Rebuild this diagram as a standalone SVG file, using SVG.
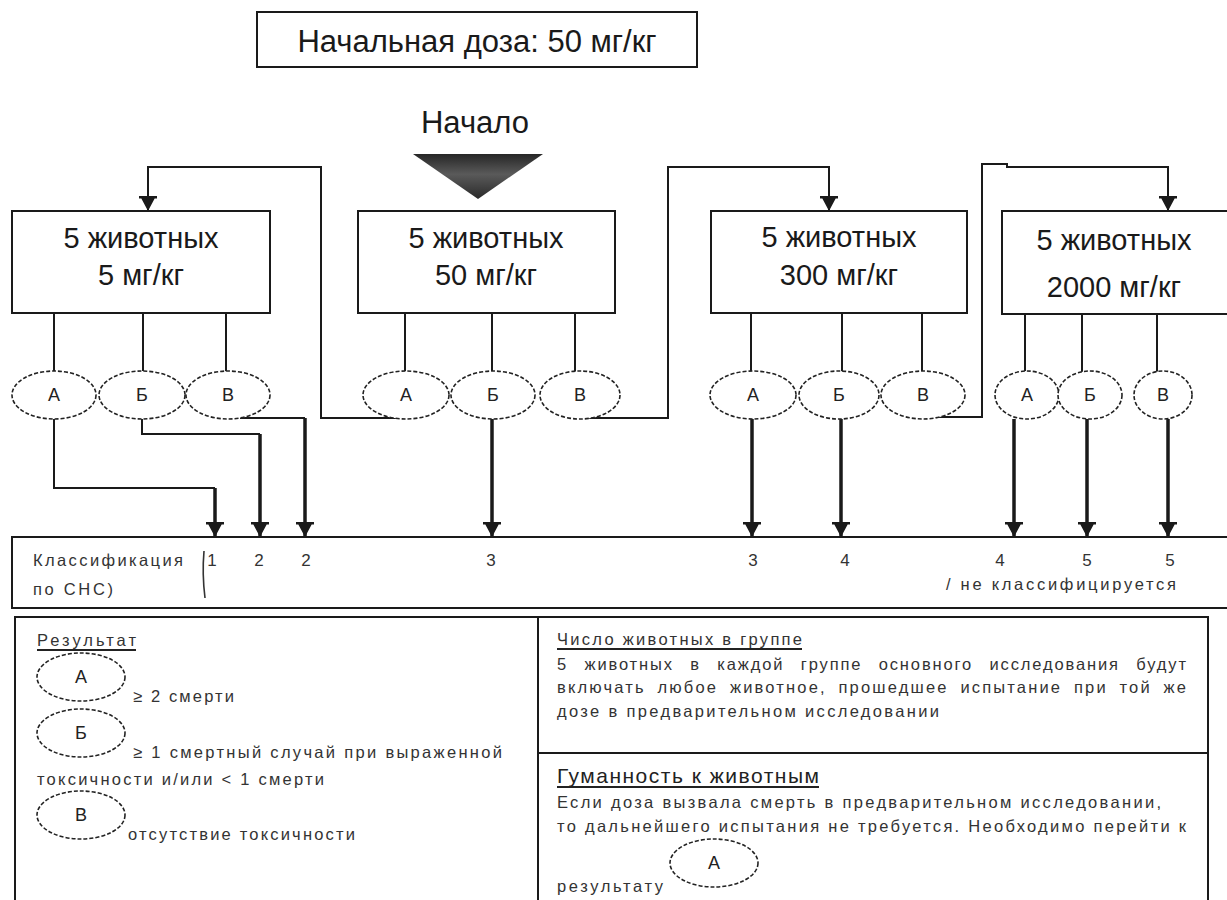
<svg xmlns="http://www.w3.org/2000/svg" width="1227" height="900" viewBox="0 0 1227 900">
<defs>
<style>
.box{fill:#fff;stroke:#1a1a1a;stroke-width:2}
.big{font-family:"Liberation Sans",Arial,sans-serif;font-size:31px;fill:#1a1a1a;text-anchor:middle}
.bt{font-family:"Liberation Sans",Arial,sans-serif;font-size:29px;fill:#1a1a1a;text-anchor:middle}
.el{fill:#fff;stroke:#222;stroke-width:1.6;stroke-dasharray:4 2}
.et{font-family:"Liberation Sans",Arial,sans-serif;font-size:18px;fill:#222;text-anchor:middle}
.ln{fill:none;stroke:#1a1a1a;stroke-width:2}
.thk{fill:none;stroke:#1a1a1a;stroke-width:3.5}
.sm{font-family:"Liberation Sans",Arial,sans-serif;font-size:16.5px;fill:#333}
.num{font-family:"Liberation Sans",Arial,sans-serif;font-size:17px;fill:#333;text-anchor:middle}
.hd{font-family:"Liberation Sans",Arial,sans-serif;font-size:21px;fill:#222}
.ul{stroke:#222;stroke-width:1.8}
</style>
<marker id="ah" viewBox="0 -9 16 18" refX="15" refY="0" markerWidth="16" markerHeight="18" markerUnits="userSpaceOnUse" orient="auto">
<path d="M0,-8 L15,0 L0,8 Z M0,-9 h2.5 v18 h-2.5 Z" fill="#1a1a1a"/>
</marker>
<linearGradient id="tri" x1="0" y1="0" x2="0" y2="1">
<stop offset="0" stop-color="#262626"/>
<stop offset="0.45" stop-color="#5a5a5a"/>
<stop offset="1" stop-color="#2a2a2a"/>
</linearGradient>
</defs>
<rect width="1227" height="900" fill="#fff"/>

<g id="title">
<rect class="box" x="257" y="12" width="440" height="55"/>
<text class="big" x="477" y="52">Начальная доза: 50 мг/кг</text>
</g>

<g id="start">
<text class="big" x="475" y="133">Начало</text>
<polygon points="413,154 543,154 478,199" fill="url(#tri)"/>
</g>

<g id="box-5">
<rect class="box" x="12" y="211" width="258" height="102"/>
<text class="bt" x="141" y="248">5 животных</text>
<text class="bt" x="141" y="285">5 мг/кг</text>
</g>
<g id="box-50">
<rect class="box" x="358" y="211" width="257" height="102"/>
<text class="bt" x="486" y="248">5 животных</text>
<text class="bt" x="486" y="285">50 мг/кг</text>
</g>
<g id="box-300">
<rect class="box" x="711" y="211" width="256" height="102"/>
<text class="bt" x="839" y="247">5 животных</text>
<text class="bt" x="839" y="285">300 мг/кг</text>
</g>
<g id="box-2000">
<rect class="box" x="1002" y="211" width="240" height="103"/>
<text class="bt" x="1114" y="250">5 животных</text>
<text class="bt" x="1114" y="297">2000 мг/кг</text>
</g>

<g id="classification">
<rect class="box" x="12" y="537" width="1240" height="71"/>
<text class="sm" x="33" y="566" textLength="150" lengthAdjust="spacing" font-size="17">Классификация</text>
<text class="sm" x="33" y="595" textLength="80" lengthAdjust="spacing" font-size="17">по СНС)</text>
<path d="M204,551 Q202,574 205,598" fill="none" stroke="#333" stroke-width="1.6"/>
<text class="num" x="212" y="566">1</text>
<text class="num" x="259" y="566">2</text>
<text class="num" x="306" y="566">2</text>
<text class="num" x="491" y="566">3</text>
<text class="num" x="753" y="566">3</text>
<text class="num" x="845" y="566">4</text>
<text class="num" x="1000" y="566">4</text>
<text class="num" x="1087" y="566">5</text>
<text class="num" x="1170" y="566">5</text>
<text class="sm" x="946" y="590" textLength="230" lengthAdjust="spacing" font-size="17">/ не  классифицируется</text>
</g>

<g id="legend">
<rect x="15" y="617" width="1193" height="300" fill="none" stroke="#1a1a1a" stroke-width="2"/>
<line x1="538" y1="617" x2="538" y2="900" stroke="#1a1a1a" stroke-width="2"/>
<line x1="538" y1="753" x2="1208" y2="753" stroke="#1a1a1a" stroke-width="2"/>
<g id="legend-result">
<text class="sm" x="37" y="646" textLength="99" lengthAdjust="spacing">Результат</text>
<line class="ul" x1="37" y1="650" x2="136" y2="650"/>
<ellipse class="el" cx="81" cy="677" rx="44" ry="24"/>
<text class="et" x="81" y="683">А</text>
<text class="sm" x="133" y="702" textLength="101" lengthAdjust="spacing">≥ 2 смерти</text>
<ellipse class="el" cx="81" cy="733" rx="44" ry="24"/>
<text class="et" x="81" y="739">Б</text>
<text class="sm" x="133" y="758" textLength="369" lengthAdjust="spacing">≥ 1 смертный случай при выраженной</text>
<text class="sm" x="37" y="785" textLength="287" lengthAdjust="spacing">токсичности и/или &lt; 1 смерти</text>
<ellipse class="el" cx="81" cy="815" rx="44" ry="24"/>
<text class="et" x="81" y="821">В</text>
<text class="sm" x="128" y="840" textLength="227" lengthAdjust="spacing">отсутствие токсичности</text>
</g>
<g id="legend-number">
<text class="sm" x="557" y="645" textLength="245" lengthAdjust="spacing">Число животных в группе</text>
<line class="ul" x1="557" y1="649" x2="802" y2="649"/>
<text class="sm" x="557" y="670" textLength="629" lengthAdjust="spacing" word-spacing="10">5 животных в каждой группе основного исследования будут</text>
<text class="sm" x="557" y="693" textLength="629" lengthAdjust="spacing" word-spacing="5">включать любое животное, прошедшее испытание при той же</text>
<text class="sm" x="557" y="717" textLength="382" lengthAdjust="spacing">дозе в предварительном исследовании</text>
</g>
<g id="legend-humane">
<text class="hd" x="557" y="783" textLength="262" lengthAdjust="spacing">Гуманность к животным</text>
<line class="ul" x1="557" y1="787" x2="819" y2="787"/>
<text class="sm" x="557" y="808" textLength="604" lengthAdjust="spacing">Если доза вызвала смерть в предварительном исследовании,</text>
<text class="sm" x="557" y="832" textLength="629" lengthAdjust="spacing">то дальнейшего испытания не требуется. Необходимо перейти к</text>
<text class="sm" x="557" y="892" textLength="106" lengthAdjust="spacing">результату</text>
<ellipse class="el" cx="714" cy="863" rx="44" ry="24"/>
<text class="et" x="714" y="869">А</text>
</g>
</g>

<g id="connectors">
<path class="ln" d="M54,313V372 M143,313V372 M226,313V372 M405,313V372 M492,313V372 M575,313V372 M751,313V372 M842,313V372 M922,313V372 M1025,313V372 M1082,313V372 M1157,313V372"/>
<path class="ln" d="M398,418H321V167H148V211" marker-end="url(#ah)"/>
<path class="ln" d="M588,418H668V167H829V211" marker-end="url(#ah)"/>
<path class="ln" d="M935,417H982V164H1007V167H1168V211" marker-end="url(#ah)"/>
<path class="ln" d="M54,419V488H215 M142,419V434H260 M240,418H305"/>
<path class="thk" d="M215,488V537" marker-end="url(#ah)"/>
<path class="thk" d="M260,434V537" marker-end="url(#ah)"/>
<path class="thk" d="M305,418V537" marker-end="url(#ah)"/>
<path class="thk" d="M492,419V537" marker-end="url(#ah)"/>
<path class="thk" d="M752,419V537" marker-end="url(#ah)"/>
<path class="thk" d="M841,419V537" marker-end="url(#ah)"/>
<path class="thk" d="M1014,419V537" marker-end="url(#ah)"/>
<path class="thk" d="M1087,419V537" marker-end="url(#ah)"/>
<path class="thk" d="M1168,419V537" marker-end="url(#ah)"/>
</g>

<g id="e5-A"><ellipse class="el" cx="54" cy="395" rx="42" ry="24"/><text class="et" x="54" y="401">А</text></g>
<g id="e5-B"><ellipse class="el" cx="142" cy="395" rx="43" ry="24"/><text class="et" x="142" y="401">Б</text></g>
<g id="e5-V"><ellipse class="el" cx="228" cy="395" rx="42" ry="24"/><text class="et" x="228" y="401">В</text></g>
<g id="e50-A"><ellipse class="el" cx="406" cy="395" rx="43" ry="24"/><text class="et" x="406" y="401">А</text></g>
<g id="e50-B"><ellipse class="el" cx="493" cy="395" rx="42" ry="24"/><text class="et" x="493" y="401">Б</text></g>
<g id="e50-V"><ellipse class="el" cx="580" cy="395" rx="40" ry="24"/><text class="et" x="580" y="401">В</text></g>
<g id="e300-A"><ellipse class="el" cx="753" cy="395" rx="43" ry="24"/><text class="et" x="753" y="401">А</text></g>
<g id="e300-B"><ellipse class="el" cx="839" cy="395" rx="40" ry="24"/><text class="et" x="839" y="401">Б</text></g>
<g id="e300-V"><ellipse class="el" cx="923" cy="395" rx="42" ry="24"/><text class="et" x="923" y="401">В</text></g>
<g id="e2000-A"><ellipse class="el" cx="1027" cy="395" rx="32" ry="24"/><text class="et" x="1027" y="401">А</text></g>
<g id="e2000-B"><ellipse class="el" cx="1090" cy="395" rx="32" ry="24"/><text class="et" x="1090" y="401">Б</text></g>
<g id="e2000-V"><ellipse class="el" cx="1163" cy="395" rx="29" ry="24"/><text class="et" x="1163" y="401">В</text></g>
</svg>
